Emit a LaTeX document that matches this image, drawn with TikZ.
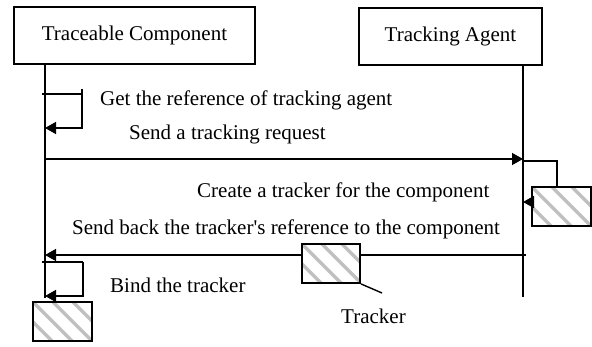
\documentclass[tikz,border=0pt]{standalone}
\usepackage{fontspec}
\setmainfont{Liberation Serif}
\usetikzlibrary{arrows.meta,calc}
\definecolor{hatchgray}{RGB}{192,192,192}
\tikzset{
  txt/.style={font=\fontsize{21}{25}\selectfont},
  actor/.style={draw, line width=1.8pt, minimum height=57pt, inner sep=0pt, txt},
  msg/.style={txt, inner sep=0pt, anchor=base west},
  lifeline/.style={line width=2pt},
  wire/.style={line width=1.4pt},
  call/.style={wire, -{Triangle[length=11pt,width=12pt]}},
  hatchbox/.style={draw, line width=1.8pt, fill=white, minimum width=59pt, minimum height=39pt, inner sep=0pt,
    path picture={
      \foreach \k in {-2,...,3}{
        \draw[hatchgray, line width=3.5pt]
          ($(path picture bounding box.north west)+(\k*20pt,0pt)$) -- ++(50pt,-50pt);
      }
    }}
}
\begin{document}
\begin{tikzpicture}[x=1pt,y=-1pt]
\useasboundingbox (0,0) rectangle (592,347);

% participants
\node[actor, minimum width=241pt] (tc) at (134.5,35.5) {Traceable Component};
\node[actor, minimum width=183pt] (ta) at (450.5,36.5) {Tracking Agent};

% lifelines
\coordinate (tcTop) at (45,64);
\coordinate (tcEnd) at (45,298);
\coordinate (taTop) at (523,65);
\coordinate (taEnd) at (523,297);
\draw[lifeline] (tcTop) -- (tcEnd);
\draw[lifeline] (taTop) -- (taEnd);

% self call: get the reference of the tracking agent
\coordinate (g1) at (42,94);
\coordinate (g2) at (82,94);
\coordinate (g0) at (82,89);
\coordinate (g3) at (82,128);
\coordinate (g4) at (45,128);
\draw[wire] (g1) -- (g2);
\draw[call] (g0) -- (g3) -- (g4);
\node[msg] (getref) at (100,106) {Get the reference of tracking agent};

% tracking request
\coordinate (r1) at (45,159);
\coordinate (r2) at (523,159);
\draw[call] (r1) -- (r2);
\node[msg] (req) at (129,140) {Send a tracking request};

% tracker creation on the agent side
\node[hatchbox] (ag) at (561.5,206.5) {};
\coordinate (c1) at (523,161);
\coordinate (c2) at (557,161);
\draw[wire] (c1) -- (c2) -- (c2 |- ag.north);
\coordinate (c3) at (523,202);
\draw[call] (ag.west |- c3) -- (c3);
\node[msg] (create) at (197,198) {Create a tracker for the component};

% reference sent back
\coordinate (b1) at (526,255);
\coordinate (b2) at (45,255);
\draw[call] (b1) -- (b2);
\node[msg] (back) at (72,235) {Send back the tracker\textquotesingle s reference to the component};
\node[hatchbox, minimum width=58pt] (tr) at (331,263.5) {};
\coordinate (trTip) at (382,293);
\draw[wire] (tr.south east) -- (trTip);
\node[msg] (trlabel) at (341,324) {Tracker};

% self call: bind the tracker
\coordinate (d1) at (42,262);
\coordinate (d2) at (83,262);
\coordinate (d3) at (83,296);
\coordinate (d4) at (45,296);
\draw[wire] (d1) -- (d2);
\draw[call] (d2) -- (d3) -- (d4);
\node[msg] (bind) at (110,293) {Bind the tracker};

% bound tracker
\node[hatchbox] (bt) at (62.5,321.5) {};
\end{tikzpicture}
\end{document}
